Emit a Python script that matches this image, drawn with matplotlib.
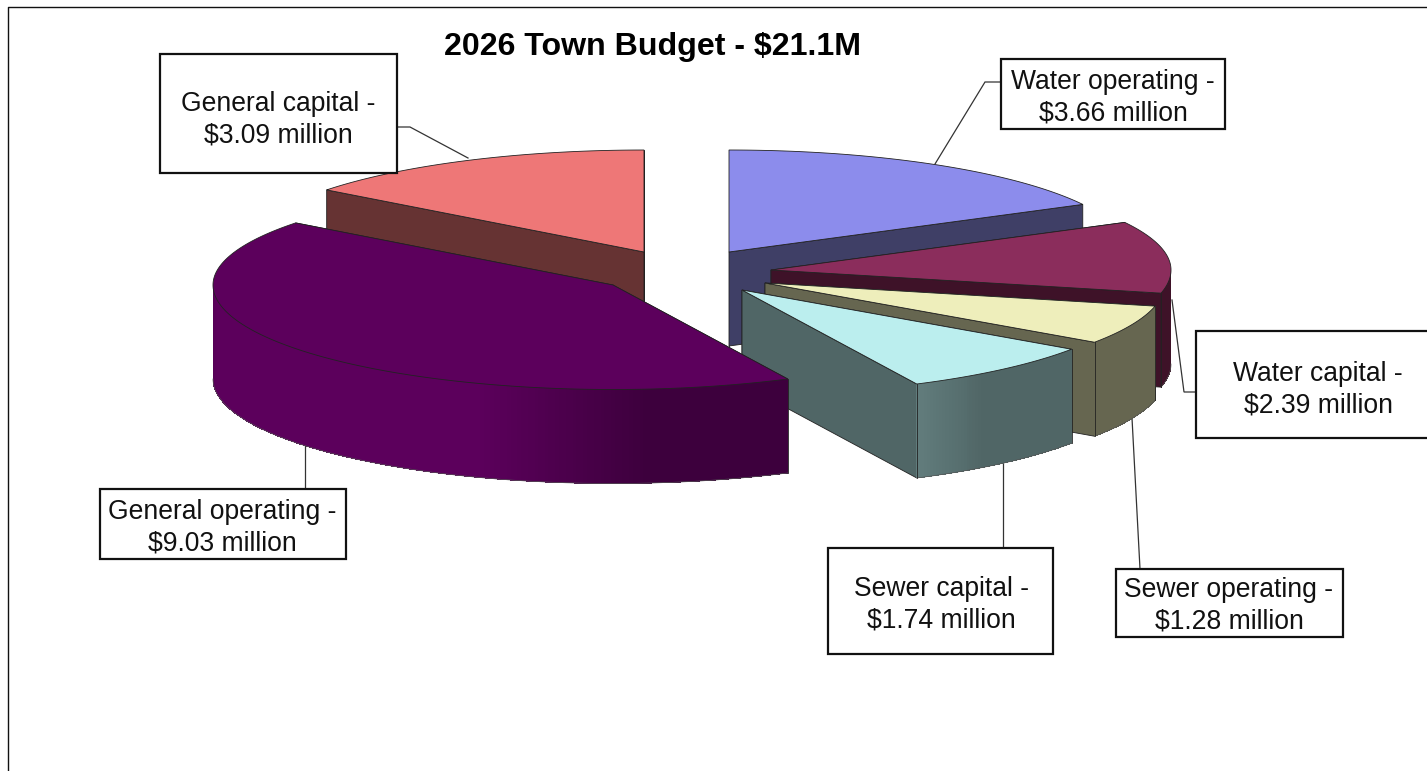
import numpy as np
import matplotlib
matplotlib.use("Agg")
import matplotlib.pyplot as plt
from matplotlib.collections import PolyCollection
from matplotlib.colors import to_rgb
from matplotlib.patches import Polygon, Rectangle

plt.rcParams['font.family'] = ['Liberation Sans', 'DejaVu Sans']

# --- data (clockwise from 12 o'clock) ---
categories = ["Water operating", "Water capital", "Sewer operating",
              "Sewer capital", "General operating", "General capital"]
values = [3.66, 2.39, 1.28, 1.74, 9.03, 3.09]
value_labels = ["$3.66 million", "$2.39 million", "$1.28 million",
                "$1.74 million", "$9.03 million", "$3.09 million"]
title = "2026 Town Budget - $21.1M"

# --- style ---
top_colors = ["#8C8CEC", "#8B2D5C", "#EEEEBB", "#BBEEEE", "#5C005C", "#EE7777"]
wall_colors = ["#3F3F66", "#3E1228", "#666650", "#506666", "#5C005C", "#663333"]
# shade stops per slice: (angle, multiplier)
wall_shades = [
    [(0, 1), (360, 1)],
    [(0, 1), (360, 1)],
    [(0, 1), (360, 1)],
    [(0, 1), (143, 1), (154, 1.22), (360, 1.22)],
    [(0, .66), (175, .66), (200, 1), (262, 1), (270, .93), (360, .93)],
    [(0, 1), (360, 1)],
]
apex_x = [729, 771, 765, 742, 613, 644]
apex_y = [252, 270, 283, 290, 285, 252]
draw_order = [0, 5, 1, 2, 3, 4]
RX, RY_BACK, RY_FRONT, DEPTH = 400, 102, 104.5, 94

box_xy = [(1001, 59, 1225, 129), (1196, 331, 1440, 438), (1116, 569, 1343, 637),
          (828, 548, 1053, 654), (100, 489, 346, 559), (160, 54, 397, 173)]
text_xy = [(1113, 98), (1318, 389.5), (1229, 606), (941, 605), (222, 528), (278, 119.5)]
leader_x = [[1001, 985, 935], [1196, 1184, 1172], [1140, 1132],
            [1003, 1003], [305, 305], [397, 410, 468]]
leader_y = [[82, 82, 164], [392, 392, 300], [569, 418],
            [548, 462], [489, 446], [127, 127, 158]]

fig = plt.figure(figsize=(14.27, 7.71), dpi=100, facecolor="white")
ax = fig.add_axes([0, 0, 1, 1])
ax.set_xlim(0, 1427)
ax.set_ylim(771, 0)
ax.axis("off")

# chart frame
ax.plot([8, 8, 1427], [771, 6.5, 6.5], color="#111111", lw=1.0, zorder=1)

# leaders sit behind the pie
for lx, ly in zip(leader_x, leader_y):
    ax.plot(lx, ly, color="#333333", lw=0.9, zorder=2, solid_joinstyle="miter")

ends = np.cumsum(values) / np.sum(values) * 360
starts = np.concatenate([[0], ends[:-1]])


def rim(cx, cy, deg):
    t = np.radians(deg)
    c = np.cos(t)
    return cx + RX * np.sin(t), cy - np.where(c > 0, RY_BACK, RY_FRONT) * c


def mult(rgb, m):
    return tuple(min(1, c * m) for c in rgb)


EDGE = "#222222"
z = 3
for i in draw_order:
    a0, a1 = starts[i], ends[i]
    cx, cy = apex_x[i], apex_y[i]
    base = to_rgb(wall_colors[i])
    # radial walls
    for a in (a0, a1):
        px, py = rim(cx, cy, a)
        ax.add_patch(Polygon([(cx, cy), (px, py), (px, py + DEPTH), (cx, cy + DEPTH)],
                             closed=True, facecolor=base, edgecolor=EDGE, lw=0.6, zorder=z))
    # outer wall: only the part facing the viewer, shaded step by step
    f0, f1 = max(a0, 90), min(a1, 270)
    if f1 > f0:
        th = np.linspace(f0, f1, max(int((f1 - f0) * 2), 8))
        xs, ys = rim(cx, cy, th)
        sa, sm = zip(*wall_shades[i])
        mids = (th[:-1] + th[1:]) / 2
        cols = [mult(base, m) for m in np.interp(mids, sa, sm)]
        quads = []
        for k in range(len(th) - 1):
            e = min(k + 2, len(th) - 1)  # overlap the next step to hide seams
            quads.append([(xs[k], ys[k]), (xs[e], ys[e]),
                          (xs[e], ys[e] + DEPTH), (xs[k], ys[k] + DEPTH)])
        ax.add_collection(PolyCollection(quads, facecolors=cols, edgecolors="none",
                                         antialiaseds=False, zorder=z + 0.1))
        ax.plot(xs, ys + DEPTH, color="#555555", lw=0.5, zorder=z + 0.2)
        for x_e, y_e, a_e in ((xs[0], ys[0], a0), (xs[-1], ys[-1], a1)):
            if 90 <= a_e <= 270:
                ax.plot([x_e, x_e], [y_e, y_e + DEPTH], color=EDGE, lw=0.6, zorder=z + 0.2)
    # top face
    tt = np.linspace(a0, a1, 200)
    tx, ty = rim(cx, cy, tt)
    ax.add_patch(Polygon(np.column_stack([np.r_[cx, tx], np.r_[cy, ty]]), closed=True,
                         facecolor=top_colors[i], edgecolor=EDGE, lw=0.6,
                         joinstyle="miter", zorder=z + 0.3))
    z += 1

# labels
for cat, vl, b, t in zip(categories, value_labels, box_xy, text_xy):
    ax.add_patch(Rectangle((b[0], b[1]), b[2] - b[0], b[3] - b[1], facecolor="white",
                           edgecolor="#111111", lw=1.6, zorder=20, clip_on=True))
    ax.text(t[0], t[1], f"{cat} -\n{vl}".replace("$", r"\$"), ha="center", va="center",
            fontsize=19.1, linespacing=1.29, color="#111111", zorder=21)

ax.text(653, 47, title.replace("$", r"\$"), ha="center", va="center",
        fontsize=23.1, fontweight="bold", color="black", zorder=21)

fig.savefig("out.png", dpi=100)
